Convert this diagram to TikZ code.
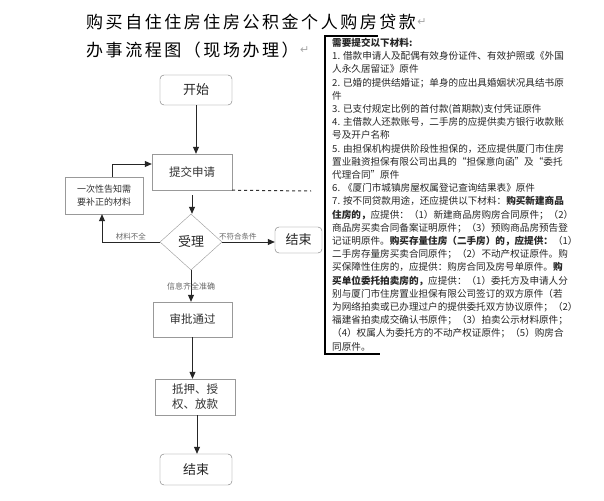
\documentclass[tikz,border=0pt]{standalone}
\usepackage{fontspec}
\setmainfont{Noto Sans CJK SC}
\newfontfamily\titlefont[LetterSpace=15]{Noto Sans CJK SC}
\newfontfamily\symfont{DejaVu Sans}
\usetikzlibrary{arrows.meta,shapes.geometric}

\begin{document}
\begin{tikzpicture}[x=1pt, y=-1pt,
    % Box styles
    termbox/.style={draw=gray!90!black, rounded corners=4pt, minimum width=72pt, minimum height=30pt, font=\fontsize{13}{15}\selectfont, text=black!85},
    stepbox/.style={draw=gray!80, minimum width=80pt, minimum height=36pt, font=\fontsize{11.5}{15}\selectfont, text=black!80, align=center},
    notebox/.style={draw=gray!80, minimum width=78pt, minimum height=37pt, font=\fontsize{9}{13}\selectfont, text=black!80, align=center},
    decbox/.style={diamond, draw=gray!80, minimum width=62pt, minimum height=56pt, inner sep=0pt, font=\fontsize{13}{15}\selectfont, text=black!85},
    flow/.style={-{Triangle[length=7pt,width=6pt]}, line width=0.8pt, black!85},
    lbl/.style={font=\fontsize{7.5}{9}\selectfont, text=black!60, inner sep=2pt},
    parmark/.style={font=\symfont\fontsize{11}{12}\selectfont, text=gray!70}
]
\fill[white] (0,0) rectangle (604,500);
\useasboundingbox (0,0) rectangle (604,500);

% 1. Title
\node[anchor=west, font=\titlefont\fontsize{17}{20}\selectfont, inner sep=0pt] (title1) at (86,22) {购买自住住房住房公积金个人购房贷款};
\node[parmark, anchor=west, inner sep=1pt] at (title1.east) {↵};
\node[anchor=west, font=\titlefont\fontsize{17}{20}\selectfont, inner sep=0pt] (title2) at (86,50) {办事流程图（现场办理）};
\node[parmark, anchor=west, inner sep=1pt] at (title2.east) {↵};

% 2. Flow boxes
\node[termbox] (start) at (196,90) {开始};
\node[stepbox] (submit) at (192,172) {提交申请};
\node[notebox] (notice) at (104,195.5) {一次性告知需\\要补正的材料};
\node[decbox] (accept) at (191,242) {受理};
\node[termbox, minimum width=47pt, minimum height=26pt] (endright) at (298.5,240) {结束};
\node[stepbox, minimum width=79pt, minimum height=35pt] (approve) at (192.5,319.5) {审批通过};
\node[stepbox] (loan) at (195,397) {抵押、授\\权、放款};
\node[termbox, minimum height=31pt] (endbottom) at (196,469.5) {结束};

% 3. Connectors
\draw[flow] (start.south) -- (start.south |- submit.north);
\draw[flow, shorten <=5pt] (submit.south) -- (submit.south |- accept.north);
\draw[flow] ([xshift=8pt]notice.north) |- ([yshift=8pt]submit.west);
\draw[flow] (accept.west) -| node[lbl, above, pos=0.25] {材料不全} ([xshift=-2pt]notice.south);
\draw[flow] (accept.east) -- node[lbl, above, pos=0.3] {不符合条件} (endright.west |- accept.east);
\draw[flow] (accept.south) -- node[lbl, font=\fontsize{8}{9}\selectfont] {信息齐全准确} (accept.south |- approve.north);
\draw[flow] (approve.south) -- (approve.south |- loan.north);
\draw[flow] ([xshift=2pt]loan.south) -- ([xshift=2pt]loan.south |- endbottom.north);

% 4. Dashed link to materials list
\coordinate (dashend) at (311,191);
\draw[dashed, line width=1pt, black!80] (submit.south east) -- (dashend);

% 5. Materials list
\draw[line width=2pt] (378,36) -- (325,36) -- (325,354) -- (380,354);
\node[anchor=north west, align=left, inner sep=0pt, font=\fontsize{9.6}{13.2}\selectfont, text=black!85] (materials) at (332,38) {%
\textbf{需要提交以下材料:}\\
1. 借款申请人及配偶有效身份证件、有效护照或《外国\\
人永久居留证》原件\\
2. 已婚的提供结婚证；单身的应出具婚姻状况具结书原\\
件\\
3. 已支付规定比例的首付款(首期款)支付凭证原件\\
4. 主借款人还款账号，二手房的应提供卖方银行收款账\\
号及开户名称\\
5. 由担保机构提供阶段性担保的，还应提供厦门市住房\\
置业融资担保有限公司出具的“担保意向函”及“委托\\
代理合同”原件\\
6. 《厦门市城镇房屋权属登记查询结果表》原件\\
7. 按不同贷款用途，还应提供以下材料：\textbf{购买新建商品}\\
\textbf{住房的，}应提供：（1）新建商品房购房合同原件；（2）\\
商品房买卖合同备案证明原件；（3）预购商品房预告登\\
记证明原件。\textbf{购买存量住房（二手房）的，应提供：}（1）\\
二手房存量房买卖合同原件；（2）不动产权证原件。购\\
买保障性住房的，应提供：购房合同及房号单原件。\textbf{购}\\
\textbf{买单位委托拍卖房的，}应提供：（1）委托方及申请人分\\
别与厦门市住房置业担保有限公司签订的双方原件（若\\
为网络拍卖或已办理过户的提供委托双方协议原件；（2）\\
福建省拍卖成交确认书原件；（3）拍卖公示材料原件；\\
（4）权属人为委托方的不动产权证原件；（5）购房合\\
同原件。};

\end{tikzpicture}
\end{document}
